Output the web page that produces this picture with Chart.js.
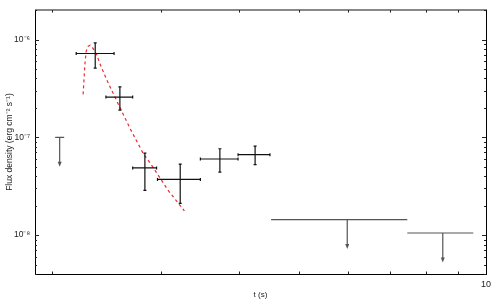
<!DOCTYPE html>
<html><head><meta charset="utf-8">
<script src="https://cdn.jsdelivr.net/npm/chart.js@4/dist/chart.umd.min.js"></script>
<style>html,body{margin:0;padding:0;background:#fff}#wrap{width:500px;height:300px}</style>
</head><body><div id="wrap"><canvas id="c" width="500" height="300"></canvas></div>
<script>
// Detections: time (s) with x-range, flux density with y-range
const tMid  = [2.35, 2.575, 2.825, 3.22, 3.73, 4.25];
const tLo   = [2.19, 2.445, 2.70, 2.96, 3.47, 3.99];
const tHi   = [2.52, 2.70, 2.95, 3.47, 3.99, 4.49];
const flux   = [7.2e-7, 2.58e-7, 4.86e-8, 3.71e-8, 6.0e-8, 6.64e-8];
const fluxLo = [5.1e-7, 1.90e-7, 2.86e-8, 2.11e-8, 4.40e-8, 5.26e-8];
const fluxHi = [9.24e-7, 3.28e-7, 6.90e-8, 5.33e-8, 7.64e-8, 8.13e-8];

// Upper limits
const ulT   = [2.06, 5.98, 8.52];
const ulTLo = [2.06, 4.51, 7.47];
const ulTHi = [2.06, 7.47, 9.54];
const ulFlux = [1.0e-7, 1.44e-8, 1.05e-8];

// Model curve (red dashed)
const modelT = [2.247, 2.256, 2.264, 2.273, 2.29, 2.307, 2.33, 2.364, 2.39, 2.454, 2.53, 2.676, 2.805, 2.917, 3.077, 3.27];
const modelF = [2.75e-7, 4.24e-7, 6.02e-7, 7.61e-7, 8.55e-7, 8.75e-7, 8.16e-7, 6.93e-7, 5.7e-7, 3.84e-7, 2.55e-7, 1.22e-7, 6.9e-8, 4.86e-8, 2.88e-8, 1.77e-8];

// Axis ticks
const xTickValues = [2, 3, 4, 5, 6, 7, 8, 9, 10];
const xTickLabels = ['', '', '', '', '', '', '', '', '10'];
const yTickValues = [1e-8, 1e-7, 1e-6];
const yTickLabels = ['10\u207B\u2078', '10\u207B\u2077', '10\u207B\u2076'];

const FONT = "'Liberation Sans', Arial, sans-serif";

const framePlugin = {
  id: 'frameAndBars',
  afterDatasetsDraw(chart) {
    const {ctx, chartArea: a, scales: {x, y}} = chart;
    ctx.save();
    // top and right frame
    ctx.strokeStyle = '#888'; ctx.lineWidth = 2;
    ctx.beginPath(); ctx.moveTo(a.left, a.top); ctx.lineTo(a.right + 1, a.top); ctx.stroke();
    ctx.strokeStyle = '#000'; ctx.lineWidth = 1;
    ctx.beginPath(); ctx.moveTo(a.right + 0.5, a.top); ctx.lineTo(a.right + 0.5, a.bottom); ctx.stroke();
    // inward ticks, y axis
    ctx.strokeStyle = '#222'; ctx.lineWidth = 1;
    for (let e = -9; e <= -6; e++) {
      for (let m = 1; m <= 9; m++) {
        const v = m * Math.pow(10, e);
        if (v < y.min || v > y.max) continue;
        const py = Math.round(y.getPixelForValue(v)) + 0.5;
        const len = m === 1 ? 4 : 2;
        ctx.beginPath();
        ctx.moveTo(a.left, py); ctx.lineTo(a.left + len, py);
        ctx.moveTo(a.right, py); ctx.lineTo(a.right - len, py);
        ctx.stroke();
      }
    }
    // inward ticks, x axis
    xTickValues.forEach(v => {
      if (v >= x.max) return;
      const px = Math.round(x.getPixelForValue(v)) + 0.5;
      ctx.beginPath();
      ctx.moveTo(px, a.bottom); ctx.lineTo(px, a.bottom - 2.5);
      ctx.moveTo(px, a.top); ctx.lineTo(px, a.top + 2.5);
      ctx.stroke();
    });
    // error bars
    ctx.strokeStyle = '#111'; ctx.lineWidth = 1.2;
    for (let i = 0; i < tMid.length; i++) {
      const cx = x.getPixelForValue(tMid[i]);
      const cy = y.getPixelForValue(flux[i]);
      const xl = x.getPixelForValue(tLo[i]), xr = x.getPixelForValue(tHi[i]);
      const yt = y.getPixelForValue(fluxHi[i]), yb = y.getPixelForValue(fluxLo[i]);
      ctx.beginPath();
      ctx.moveTo(xl, cy); ctx.lineTo(xr, cy);
      ctx.moveTo(cx, yt); ctx.lineTo(cx, yb);
      ctx.moveTo(xl, cy - 1.5); ctx.lineTo(xl, cy + 1.5);
      ctx.moveTo(xr, cy - 1.5); ctx.lineTo(xr, cy + 1.5);
      ctx.moveTo(cx - 1.5, yt); ctx.lineTo(cx + 1.5, yt);
      ctx.moveTo(cx - 1.5, yb); ctx.lineTo(cx + 1.5, yb);
      ctx.stroke();
    }
    // upper limits
    ctx.strokeStyle = '#555'; ctx.fillStyle = '#555'; ctx.lineWidth = 1.2;
    for (let i = 0; i < ulT.length; i++) {
      const cx = x.getPixelForValue(ulT[i]);
      const cy = y.getPixelForValue(ulFlux[i]);
      let xl = x.getPixelForValue(ulTLo[i]), xr = x.getPixelForValue(ulTHi[i]);
      if (ulTLo[i] === ulTHi[i]) { xl = cx - 4.5; xr = cx + 4.5; }
      const tip = y.getPixelForValue(ulFlux[i] / 2);
      ctx.beginPath();
      ctx.moveTo(xl, cy); ctx.lineTo(xr, cy);
      ctx.moveTo(cx, cy); ctx.lineTo(cx, tip - 4);
      ctx.stroke();
      ctx.beginPath();
      ctx.moveTo(cx - 2, tip - 5); ctx.lineTo(cx + 2, tip - 5); ctx.lineTo(cx, tip); ctx.closePath();
      ctx.fill();
    }
    ctx.restore();
  }
};

new Chart(document.getElementById('c'), {
  type: 'scatter',
  data: {
    datasets: [
      {
        type: 'line',
        data: modelT.map((t, i) => ({x: t, y: modelF[i]})),
        borderColor: '#ee2a2f', borderWidth: 1.2, borderDash: [3, 3],
        pointRadius: 0, fill: false, tension: 0
      },
      {
        data: tMid.map((t, i) => ({x: t, y: flux[i]})),
        pointRadius: 0, backgroundColor: '#000'
      }
    ]
  },
  options: {
    responsive: false, animation: false,
    layout: {padding: {top: 9, right: 14, left: 0, bottom: 0}},
    plugins: {legend: {display: false}, tooltip: {enabled: false}},
    scales: {
      x: {
        type: 'logarithmic', position: 'bottom', min: 1.88, max: 10,
        afterBuildTicks: s => { s.ticks = xTickValues.map(v => ({value: v})); },
        afterFit: s => { s.height = 26; },
        grid: {display: false, drawTicks: false},
        border: {display: true, color: '#000', width: 1},
        ticks: {autoSkip: false, maxRotation: 0, padding: 5, color: '#222',
          font: {family: FONT, size: 9},
          callback: (v, i) => xTickLabels[i]},
        title: {display: true, text: 't (s)', color: '#222', padding: {top: 0, bottom: 0},
          font: {family: FONT, size: 8}}
      },
      y: {
        type: 'logarithmic', position: 'left', min: 4e-9, max: 2e-6,
        afterBuildTicks: s => { s.ticks = yTickValues.map(v => ({value: v})); },
        afterFit: s => { s.width = 35; },
        grid: {display: false, drawTicks: false},
        border: {display: true, color: '#000', width: 1},
        ticks: {autoSkip: false, padding: 5, color: '#222',
          font: {family: FONT, size: 8.5},
          callback: (v, i) => yTickLabels[i]},
        title: {display: true, text: 'Flux density (erg cm\u207B\u00B2 s\u207B\u00B9)', color: '#222',
          padding: {top: 5, bottom: 0}, font: {family: FONT, size: 8.5}}
      }
    }
  },
  plugins: [framePlugin]
});
</script></body></html>
